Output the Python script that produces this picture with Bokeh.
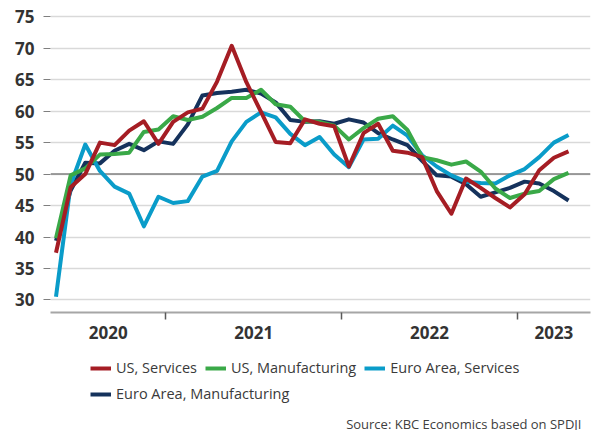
from bokeh.plotting import figure
from bokeh.layouts import column
from bokeh.models import FixedTicker, Legend, LegendItem, Label, Range1d, Span
from bokeh.embed import file_html
from bokeh.resources import INLINE

# ---------------- data ----------------
months = [
    "2020-05", "2020-06", "2020-07", "2020-08", "2020-09", "2020-10", "2020-11", "2020-12",
    "2021-01", "2021-02", "2021-03", "2021-04", "2021-05", "2021-06", "2021-07", "2021-08",
    "2021-09", "2021-10", "2021-11", "2021-12",
    "2022-01", "2022-02", "2022-03", "2022-04", "2022-05", "2022-06", "2022-07", "2022-08",
    "2022-09", "2022-10", "2022-11", "2022-12",
    "2023-01", "2023-02", "2023-03", "2023-04",
]
year_labels = ["2020", "2021", "2022", "2023"]
y_ticks = [30, 35, 40, 45, 50, 55, 60, 65, 70, 75]

us_services = [37.5, 47.9, 50.0, 55.0, 54.6, 56.9, 58.4, 54.8,
               58.3, 59.8, 60.4, 64.7, 70.4, 64.6, 59.9, 55.1, 54.9, 58.7, 58.0, 57.6,
               51.2, 56.5, 58.0, 53.7, 53.4, 52.7, 47.3, 43.7, 49.3, 47.8, 46.2, 44.7,
               46.8, 50.6, 52.6, 53.6]
us_manufacturing = [39.8, 49.8, 50.9, 53.1, 53.2, 53.4, 56.7, 57.1,
                    59.2, 58.6, 59.1, 60.5, 62.1, 62.1, 63.4, 61.1, 60.7, 58.4, 58.3, 57.7,
                    55.5, 57.3, 58.8, 59.2, 57.0, 52.7, 52.2, 51.5, 52.0, 50.4, 47.7, 46.2,
                    46.9, 47.3, 49.2, 50.2]
ea_services = [30.5, 48.3, 54.7, 50.5, 48.0, 46.9, 41.7, 46.4,
               45.4, 45.7, 49.6, 50.5, 55.2, 58.3, 59.8, 59.0, 56.4, 54.6, 55.9, 53.1,
               51.1, 55.5, 55.6, 57.7, 56.1, 53.0, 51.2, 49.8, 48.8, 48.6, 48.5, 49.8,
               50.8, 52.7, 55.0, 56.2]
ea_manufacturing = [39.4, 47.4, 51.8, 51.7, 53.7, 54.8, 53.8, 55.2,
                    54.8, 57.9, 62.5, 62.9, 63.1, 63.4, 62.8, 61.4, 58.6, 58.3, 58.4, 58.0,
                    58.7, 58.2, 56.5, 55.5, 54.6, 52.1, 49.8, 49.6, 48.4, 46.4, 47.1, 47.8,
                    48.8, 48.5, 47.3, 45.8]

series_names = ["US, Services", "US, Manufacturing", "Euro Area, Services", "Euro Area, Manufacturing"]
source_text = "Source: KBC Economics based on SPDJI"

RED = "#a51d24"
GREEN = "#3aa948"
CYAN = "#0a9cc9"
NAVY = "#15325c"
TEXT = "#333333"

# ---------------- geometry ----------------
n = len(months)
xs = list(range(n))
x_start, x_end = -0.375, n + 0.5
y_start, y_end = 28, 76
bounds = [i - 0.5 for i, m in enumerate(months) if m.endswith("-01")]
edges = [x_start] + bounds + [x_end]
centers = [(a + b) / 2 for a, b in zip(edges[:-1], edges[1:])]

W = 598
H_CHART = 346
H_FOOT = 89

p = figure(
    width=W, height=H_CHART,
    frame_width=540, frame_height=302,
    min_border_left=50, min_border_right=8, min_border_top=10, min_border_bottom=0,
    x_range=Range1d(x_start, x_end), y_range=Range1d(y_start, y_end),
    output_backend="svg", toolbar_location=None,
)
p.outline_line_color = None
p.background_fill_color = "white"
p.border_fill_color = "white"

# grid
p.xgrid.visible = False
p.ygrid.ticker = FixedTicker(ticks=y_ticks)
p.ygrid.grid_line_color = "#d9d9d9"
p.ygrid.grid_line_width = 1.5

p.add_layout(Span(location=50, dimension="width", line_color="#808080",
                  line_width=1.5, level="underlay"))

# y axis
yax = p.yaxis[0]
yax.ticker = FixedTicker(ticks=y_ticks)
yax.axis_line_color = None
yax.major_tick_out = 7
yax.major_tick_in = 0
yax.major_tick_line_color = "#7f7f7f"
yax.major_tick_line_width = 1
yax.minor_tick_line_color = None
yax.major_label_standoff = 9
yax.major_label_text_font = "Open Sans"
yax.major_label_text_font_style = "bold"
yax.major_label_text_font_size = "17px"
yax.major_label_text_color = TEXT

# x axis
xax = p.xaxis[0]
xax.ticker = FixedTicker(ticks=centers, minor_ticks=bounds)
xax.major_label_overrides = {c: lab for c, lab in zip(centers, year_labels)}
xax.axis_line_color = "#a6a6a6"
xax.axis_line_width = 2
xax.major_tick_line_color = None
xax.major_tick_out = 0
xax.major_tick_in = 0
xax.minor_tick_line_color = "#595959"
xax.minor_tick_line_width = 1.5
xax.minor_tick_out = 7
xax.minor_tick_in = 0
xax.major_label_standoff = 6
xax.major_label_text_font = "Open Sans"
xax.major_label_text_font_style = "bold"
xax.major_label_text_font_size = "17px"
xax.major_label_text_color = TEXT

# lines (drawn navy first, red last)
p.line(xs, ea_manufacturing, line_color=NAVY, line_width=4, line_join="round")
p.line(xs, ea_services, line_color=CYAN, line_width=4, line_join="round")
p.line(xs, us_manufacturing, line_color=GREEN, line_width=4, line_join="round")
p.line(xs, us_services, line_color=RED, line_width=4, line_join="round")

# ---------------- footer: legend + source ----------------
f = figure(
    width=W, height=H_FOOT,
    x_range=Range1d(0, W), y_range=Range1d(0, H_FOOT),
    x_axis_location=None, y_axis_location=None,
    min_border=0, output_backend="svg", toolbar_location=None,
)
f.grid.visible = False
f.outline_line_color = None
f.background_fill_color = "white"
f.border_fill_color = "white"

# legend key renderers: placed outside the visible range, only their style is used
colors = [RED, GREEN, CYAN, NAVY]
key_renderers = [f.line(x=[-30, -20], y=[-30, -30], line_color=c, line_width=4)
                 for c in colors]


def make_legend(items, loc):
    return Legend(items=items, orientation="horizontal", location=loc,
                  border_line_color=None, background_fill_alpha=0,
                  glyph_width=21, glyph_height=18, label_height=18,
                  label_standoff=5, spacing=8, padding=4, margin=0,
                  label_text_font="Open Sans", label_text_font_size="14.5px",
                  label_text_color="#3a3a3a")


leg1 = make_legend([LegendItem(label=series_names[i], renderers=[key_renderers[i]])
                    for i in range(3)], (40, 53))
leg2 = make_legend([LegendItem(label=series_names[3], renderers=[key_renderers[3]])],
                   (40, 27))
f.add_layout(leg1)
f.add_layout(leg2)

f.add_layout(Label(x=588, y=7, text=source_text, text_align="right",
                   text_baseline="alphabetic", text_font="Open Sans",
                   text_font_size="13px", text_color="#404040"))

open("out.html", "w").write(file_html(column(p, f, spacing=0), INLINE))
